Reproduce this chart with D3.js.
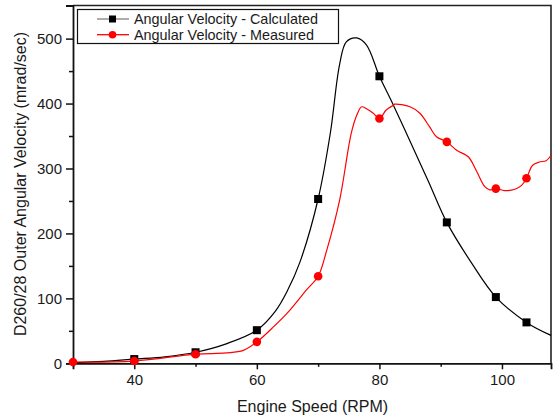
<!DOCTYPE html>
<html>
<head>
<meta charset="utf-8">
<script src="https://cdn.jsdelivr.net/npm/d3@7"></script>
<style>
  html, body { margin: 0; padding: 0; background: #fff; }
  svg { display: block; font-family: "Liberation Sans", Arial, sans-serif; }
</style>
</head>
<body>
<svg id="chart" width="558" height="418"></svg>
<script>
// Calculated angular velocity: smooth model curve samples (RPM, mrad/sec)
const calcCurveX = [30, 35, 40, 45, 50, 55, 60, 63, 65, 67, 70, 72, 73.5, 74.6, 76.3, 77.9, 80, 82, 85, 88, 91, 95, 99, 104, 108];
const calcCurveY = [1, 3, 6.5, 10, 17, 30, 51, 80, 112, 155, 253, 355, 460, 495, 501, 490, 442, 403, 342, 280, 217, 155, 102, 63, 43];
// Calculated values marked with squares
const calcMarkX = [40, 50, 60, 70, 80, 91, 99, 104];
const calcMarkY = [6.5, 17, 51, 253, 442, 217, 102, 63];

// Measured angular velocity: trace samples (RPM, mrad/sec)
const measCurveX = [30, 40, 50, 55, 57.8, 60, 62.7, 65.4, 68.1, 70, 71.4, 73.5, 75.4, 76.3, 77.1, 77.9, 79, 80, 81.1, 82.2, 82.5, 85, 86.6, 88.2, 89.3, 91, 92.6, 94.5, 95.8, 97.2, 98, 99, 100.4, 102.1, 103.2, 104, 105, 106.1, 107.2, 108];
const measCurveY = [2, 3.5, 14, 16, 20, 33, 56, 82, 113, 134, 174, 251, 354, 382, 395, 392, 385, 377, 390, 397, 399, 395, 385, 364, 349, 341, 328, 318, 297, 272, 267, 269, 266, 268, 274, 285, 305, 310, 312, 320];
// Measured values marked with circles
const measMarkX = [30, 40, 50, 60, 70, 80, 91, 99, 104];
const measMarkY = [2, 3.5, 14, 33, 134, 377, 341, 269, 285];

// Axis ticks
const xMajorTicks = [40, 60, 80, 100];
const xMinorTicks = [30, 50, 70, 90];
const yMajorTicks = [0, 100, 200, 300, 400, 500];
const yMinorTicks = [50, 150, 250, 350, 450];

const legendLabels = ["Angular Velocity - Calculated", "Angular Velocity - Measured"];
const xTitle = "Engine Speed (RPM)";
const yTitle = "D260/28 Outer Angular Velocity (mrad/sec)";

const svg = d3.select("#chart");
const plot = { left: 73, right: 551, top: 5.5, bottom: 363.3 };

const x = d3.scaleLinear().domain([30, 108]).range([plot.left, plot.right]);
const y = d3.scaleLinear().domain([0, 551]).range([plot.bottom, plot.top]);

// Frame (top and right)
svg.append("path")
  .attr("d", `M${plot.left},${plot.top}H${plot.right}V${plot.bottom}`)
  .attr("fill", "none").attr("stroke", "#222").attr("stroke-width", 1.6);

// X axis
const xAxis = svg.append("g").attr("transform", `translate(0,${plot.bottom})`);
xAxis.call(d3.axisBottom(x).tickValues(xMajorTicks).tickSize(6).tickPadding(5).tickFormat(d3.format("d")));
const xMinor = svg.append("g").attr("transform", `translate(0,${plot.bottom})`);
xMinor.call(d3.axisBottom(x).tickValues(xMinorTicks).tickSize(3.5).tickFormat(""));
xMinor.select(".domain").remove();

// Y axis
const yAxis = svg.append("g").attr("transform", `translate(${plot.left},0)`);
yAxis.call(d3.axisLeft(y).tickValues(yMajorTicks).tickSize(7).tickPadding(4).tickFormat(d3.format("d")));
const yMinor = svg.append("g").attr("transform", `translate(${plot.left},0)`);
yMinor.call(d3.axisLeft(y).tickValues(yMinorTicks).tickSize(4).tickFormat(""));
yMinor.select(".domain").remove();

svg.selectAll(".domain").attr("stroke", "#111").attr("stroke-width", 1.8);
svg.selectAll(".tick line").attr("stroke", "#111").attr("stroke-width", 1.5);
svg.selectAll(".tick text").attr("font-size", 15).attr("fill", "#1a1a1a")
  .attr("font-family", "'Liberation Sans', Arial, sans-serif");

// Axis titles
svg.append("text")
  .attr("x", (plot.left + plot.right) / 2 + 0.5).attr("y", 412)
  .attr("text-anchor", "middle").attr("font-size", 16).attr("fill", "#1a1a1a")
  .text(xTitle);
svg.append("text")
  .attr("transform", `translate(26,184) rotate(-90)`)
  .attr("text-anchor", "middle").attr("font-size", 16).attr("fill", "#1a1a1a")
  .text(yTitle);

const line = d3.line().x(d => x(d[0])).y(d => y(d[1])).curve(d3.curveCatmullRom.alpha(0.5));

// Calculated series
svg.append("path")
  .datum(d3.zip(calcCurveX, calcCurveY))
  .attr("d", line).attr("fill", "none").attr("stroke", "#000").attr("stroke-width", 1.2);
svg.append("g").selectAll("rect")
  .data(d3.zip(calcMarkX, calcMarkY)).join("rect")
  .attr("x", d => x(d[0]) - 4).attr("y", d => y(d[1]) - 4)
  .attr("width", 8).attr("height", 8).attr("fill", "#000");

// Measured series
svg.append("path")
  .datum(d3.zip(measCurveX, measCurveY))
  .attr("d", line).attr("fill", "none").attr("stroke", "#ff0000").attr("stroke-width", 1.2);
svg.append("g").selectAll("circle")
  .data(d3.zip(measMarkX, measMarkY)).join("circle")
  .attr("cx", d => x(d[0])).attr("cy", d => y(d[1])).attr("r", 4.3).attr("fill", "#ff0000");

// Legend
const legend = svg.append("g");
legend.append("rect")
  .attr("x", 77.5).attr("y", 9.5).attr("width", 261).attr("height", 34)
  .attr("fill", "#fff").attr("stroke", "#111").attr("stroke-width", 1.2);
const legendColors = ["#808080", "#ff0000"];
legendLabels.forEach((label, i) => {
  const cy = 19 + i * 15.7;
  legend.append("line").attr("x1", 97).attr("x2", 129).attr("y1", cy).attr("y2", cy)
    .attr("stroke", legendColors[i]).attr("stroke-width", 1.3);
  if (i === 0) {
    legend.append("rect").attr("x", 109).attr("y", cy - 3.5).attr("width", 7).attr("height", 7).attr("fill", "#000");
  } else {
    legend.append("circle").attr("cx", 112.5).attr("cy", cy).attr("r", 3.8).attr("fill", "#ff0000");
  }
  legend.append("text").attr("x", 134).attr("y", cy + 5)
    .attr("font-size", 14.4).attr("fill", "#1a1a1a").text(label);
});
</script>
</body>
</html>
